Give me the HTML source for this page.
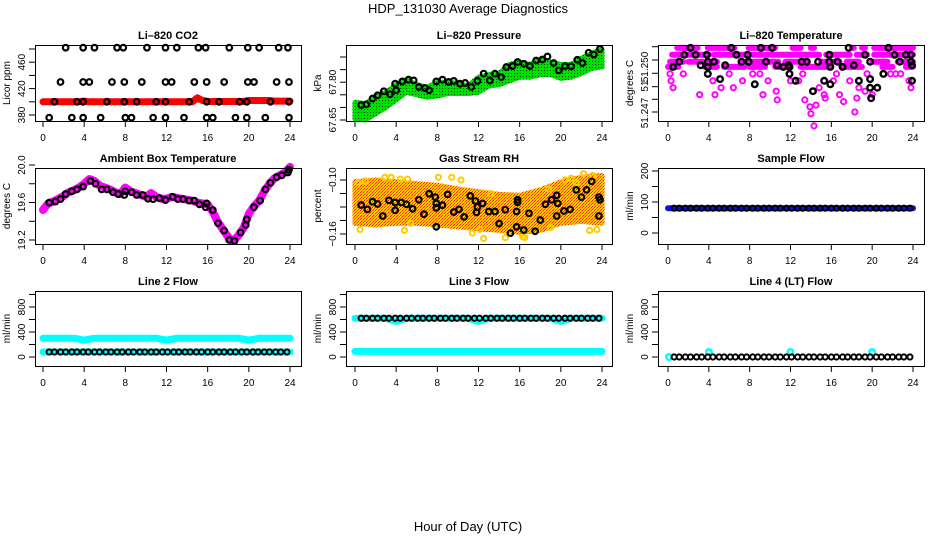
<!DOCTYPE html>
<html><head><meta charset="utf-8"><style>
body{margin:0;background:#fff}
svg{display:block;font-family:"Liberation Sans",Arial,sans-serif}
</style></head><body>
<svg id="c" width="936" height="540" viewBox="0 0 936 540">
<defs>
<pattern id="pg" width="3" height="3" patternUnits="userSpaceOnUse"><rect width="3" height="3" fill="#00dd00"/><rect x="1" y="1" width="1" height="1" fill="#004400"/></pattern>
<pattern id="po" width="3" height="3" patternUnits="userSpaceOnUse"><rect width="3" height="3" fill="#ffcc00"/><rect width="1" height="1" fill="#ff2200"/><rect x="2" y="1" width="1" height="1" fill="#ff6600"/><rect x="1" y="2" width="1" height="1" fill="#ff2200"/></pattern>
</defs>
<text x="468" y="13" text-anchor="middle" font-size="13">HDP_131030  Average Diagnostics</text>
<text x="468" y="531" text-anchor="middle" font-size="13">Hour of Day (UTC)</text>
</svg>
<script>
// ---------- data ----------
const xTicks=[0,4,8,12,16,20,24];
const co2Red=[400,400,400,400,400,400,400,400,401,400,400,400,400,400,400,400,400,400,400,400,400,400,400,400,400,400,400,400,400,400,406,402,400.5,400.5,400.5,400.5,400.5,400.5,400.5,400.5,402,402,402,402,402,401,401,401,401];
const co2Top=[2.2,3.9,5,7.2,7.8,10.1,11.9,13,15.1,15.8,18.1,19.9,21,22.9,23.8];
const co2Mid=[1.7,3.9,4.5,6.7,7.9,9.6,11.9,12.5,14.7,15.9,17.6,19.9,20.5,22.7,23.9];
const co2Base=[1.1,3.3,3.9,6.2,7.9,9.1,11.0,11.9,14.2,15.9,17.1,19.1,19.8,22.1,23.9];
const co2Low=[0.6,2.8,3.9,5.6,8,8.6,10.7,11.9,13.7,15.9,16.5,18.7,19.8,21.6,23.9];
const co2Levels=[482,430,400,376];
const presUpper=[67.72,67.715,67.74,67.76,67.79,67.81,67.79,67.78,67.80,67.80,67.795,67.785,67.82,67.83,67.835,67.87,67.88,67.87,67.89,67.88,67.87,67.87,67.895,67.915,67.93];
const presLower=[67.655,67.65,67.675,67.70,67.73,67.76,67.75,67.74,67.745,67.755,67.755,67.755,67.76,67.785,67.79,67.805,67.82,67.82,67.83,67.83,67.815,67.82,67.835,67.855,67.86];
const presBlackH=[0.6,1.1,1.7,2.2,2.8,3.4,3.9,4.0,4.6,5.2,5.7,6.2,6.8,7.2,7.9,8.5,9.1,9.6,10.2,10.7,11.3,11.9,12.5,13.1,13.6,14.2,14.7,15.3,15.8,16.4,17.0,17.6,18.2,18.7,19.3,19.8,20.4,21.0,21.6,22.1,22.7,23.2,23.8];
const presBlackV=[67.709,67.712,67.735,67.748,67.764,67.752,67.794,67.768,67.803,67.810,67.807,67.781,67.777,67.768,67.803,67.810,67.801,67.805,67.794,67.797,67.781,67.805,67.834,67.807,67.834,67.820,67.860,67.864,67.880,67.873,67.864,67.886,67.890,67.902,67.876,67.847,67.864,67.863,67.889,67.876,67.917,67.910,67.932];
const tempLevels=[51.2507,51.2503,51.2499,51.2496];
const tempRanges=[
 [[0.9,2.9],[3.9,6.5],[7.9,10.5],[12.2,13.0],[14.0,14.3],[18.0,18.2],[19.0,19.3],[20.2,24.0]],
 [[0.4,4.0],[4.5,10.0],[10.2,14.8],[15.5,17.8],[18.5,19.5],[20.2,24.0]],
 [[0.2,1.5],[2.0,3.4],[3.8,4.8],[7.2,10.8],[11.5,13.6],[15.0,16.8],[17.5,18.7],[20.0,21.5],[22.5,24.0]],
 [[0.0,1.0],[3.6,4.8],[5.5,7.5],[8.0,9.5],[10.5,12.0],[13.0,16.0],[17.0,19.0],[21.0,22.0],[23.3,24.0]]];
const tempMagH=[0.2,0.3,0.5,3.1,4.6,5.2,6.4,7.3,8.3,9.3,9.8,10.6,10.7,11.9,12.8,13.4,13.9,14.0,14.3,14.5,14.8,15.3,16.2,16.8,17.2,17.8,18.3,18.5,18.7,19.3,20.0,22.3,23.6,23.8,4.4,12.0,15.4,1.5,6.0,9.0,13.2,16.5,19.5,21.8,22.8];
const tempMagV=[51.2492,51.2488,51.2484,51.2480,51.2480,51.2484,51.2484,51.2488,51.2492,51.2480,51.2488,51.2482,51.2477,51.2492,51.2488,51.2477,51.2473,51.2469,51.2462,51.2474,51.2484,51.2480,51.2488,51.2480,51.2476,51.2488,51.2470,51.2478,51.2484,51.2482,51.2480,51.2492,51.2488,51.2484,51.2488,51.2488,51.2478,51.2492,51.2492,51.2492,51.2492,51.2492,51.2492,51.2492,51.2492];
const tempBlackH=[0.5,1.1,1.6,2.2,2.7,3.2,3.8,3.9,3.9,3.9,4.5,5.1,5.6,6.2,6.7,7.2,7.8,7.9,8.5,9.1,9.6,10.2,10.7,11.3,11.8,11.9,11.9,12.5,13.1,13.6,14.2,14.7,15.3,15.8,15.8,15.9,15.9,16.6,17.1,17.7,18.2,18.7,19.3,19.8,19.8,19.8,19.9,20.5,21.1,21.6,22.2,22.7,23.3,23.8,23.8,23.9,23.9];
const tempBlackV=[51.2496,51.2499,51.2503,51.2507,51.2503,51.2497,51.2503,51.2499,51.2496,51.2492,51.2499,51.2489,51.2497,51.2507,51.2503,51.2499,51.2503,51.2499,51.2486,51.2507,51.2499,51.2507,51.2497,51.2496,51.2497,51.2496,51.2492,51.2488,51.2499,51.2499,51.2482,51.2499,51.2488,51.2503,51.2499,51.2496,51.2486,51.2499,51.2496,51.2507,51.2497,51.2488,51.2503,51.2499,51.2489,51.2484,51.2478,51.2484,51.2492,51.2507,51.2503,51.2499,51.2503,51.2503,51.2499,51.2497,51.2488];
const tempTickLabels=["51.250","51","51.247"];
const tempTickLabelVals=[51.249596,51.2485,51.246942];
const ambMag=[19.52,19.59,19.61,19.64,19.67,19.71,19.73,19.76,19.80,19.85,19.83,19.78,19.76,19.74,19.71,19.69,19.76,19.72,19.70,19.68,19.66,19.70,19.66,19.64,19.64,19.66,19.65,19.64,19.63,19.62,19.60,19.59,19.58,19.50,19.39,19.31,19.23,19.19,19.25,19.33,19.48,19.56,19.62,19.72,19.80,19.86,19.89,19.92,19.98];
const ambBlackH=[0.6,1.2,1.7,2.2,2.8,3.3,3.9,4.6,5.1,5.7,6.2,6.8,7.3,7.9,8.0,8.6,9.1,9.7,10.2,10.7,11.3,11.9,12.6,13.1,13.6,14.2,14.7,15.2,15.8,15.9,16.5,17.0,17.6,18.1,18.6,19.2,19.7,19.8,20.5,21.1,21.6,22.1,22.7,23.2,23.8,23.9];
const ambBlackV=[19.598,19.61,19.636,19.69,19.72,19.74,19.77,19.83,19.80,19.74,19.74,19.71,19.69,19.68,19.72,19.71,19.68,19.68,19.64,19.636,19.647,19.626,19.66,19.636,19.636,19.62,19.62,19.58,19.55,19.59,19.52,19.38,19.30,19.20,19.19,19.28,19.36,19.42,19.55,19.62,19.74,19.81,19.87,19.89,19.92,19.95];
const rhUpper=[-0.102,-0.100,-0.102,-0.104,-0.106,-0.110,-0.113,-0.116,-0.117,-0.111,-0.102,-0.097,-0.095];
const rhLower=[-0.148,-0.150,-0.148,-0.148,-0.150,-0.152,-0.154,-0.156,-0.158,-0.156,-0.148,-0.146,-0.148];
const rhOrH=[0.3,0.5,1.0,2.9,3.5,4.4,4.8,5.1,5.4,8.1,9.4,10.3,11.4,12.1,12.5,14.6,16.3,16.5,19.0,20.4,21.0,21.5,22.2,23.1,22.8,23.5,13.2,18.8];
const rhOrV=[-0.103,-0.155,-0.101,-0.097,-0.097,-0.099,-0.156,-0.099,-0.148,-0.097,-0.097,-0.100,-0.159,-0.155,-0.165,-0.164,-0.163,-0.164,-0.153,-0.100,-0.098,-0.103,-0.093,-0.095,-0.156,-0.155,-0.115,-0.110];
const rhBlackH=[0.6,1.2,1.7,2.2,2.7,3.3,3.9,3.9,4.5,5.0,5.6,6.2,6.7,7.2,7.8,7.9,7.9,7.9,8.5,9.0,9.6,10.1,10.6,11.2,11.7,11.8,11.9,12.4,13.0,13.6,14.0,14.6,15.1,15.7,15.7,15.8,15.8,16.4,16.9,17.5,18.0,18.5,19.1,19.6,19.7,19.6,20.3,20.9,21.5,22.0,22.5,23.0,23.7,23.8,23.7];
const rhBlackV=[-0.1278,-0.1326,-0.1241,-0.1267,-0.140,-0.1226,-0.125,-0.1337,-0.125,-0.127,-0.132,-0.122,-0.138,-0.1152,-0.119,-0.126,-0.131,-0.152,-0.128,-0.116,-0.1356,-0.1326,-0.141,-0.1176,-0.1233,-0.136,-0.130,-0.126,-0.135,-0.135,-0.1484,-0.133,-0.159,-0.135,-0.152,-0.1248,-0.122,-0.1556,-0.137,-0.157,-0.1445,-0.127,-0.122,-0.117,-0.126,-0.140,-0.1344,-0.1326,-0.111,-0.119,-0.111,-0.1015,-0.119,-0.122,-0.140];
const flowHours=[0.6,1.1,1.7,2.2,2.8,3.3,3.9,4.4,5.0,5.5,6.1,6.6,7.2,7.7,8.3,8.8,9.4,9.9,10.5,11.0,11.6,12.1,12.7,13.2,13.8,14.3,14.9,15.4,16.0,16.5,17.1,17.6,18.2,18.7,19.3,19.8,20.4,20.9,21.5,22.0,22.6,23.1,23.7];
const sampleBlack=[80,80,80,80,80,80,80,80,80,80,80,80,80,80,80,80,80,80,80,80,80,80,80,80,80,80,80,80,80,80,80,80,80,80,80,80,80,80,80,80,80,80,80];
const line2Black=[80,80,80,80,80,80,80,80,80,80,80,80,80,80,80,80,80,80,80,80,80,80,80,80,80,80,80,80,80,80,80,80,80,80,80,80,80,80,80,80,80,80,80];
const line3Black=[620,620,620,620,620,620,620,620,620,620,620,620,620,620,620,620,620,620,620,620,620,620,620,620,620,620,620,620,620,620,620,620,620,620,620,620,620,620,620,620,620,620,620];
const line4Black=[0,0,0,0,0,0,0,0,0,0,0,0,0,0,0,0,0,0,0,0,0,0,0,0,0,0,0,0,0,0,0,0,0,0,0,0,0,0,0,0,0,0,0];
const hourGrid=[0,1,2,3,4,5,6,7,8,9,10,11,12,13,14,15,16,17,18,19,20,21,22,23,24];
const sampleBlue=[80,80,80,80,80,80,80,80,80,80,80,80,80,80,80,80,80,80,80,80,80,80,80,80,80];
const line2CyanHi=[300,300,300,300,270,300,300,300,300,300,300,300,270,300,300,300,300,300,300,300,270,300,300,300,300];
const line2CyanLo=[80,80,80,80,80,80,80,80,80,80,80,80,80,80,80,80,80,80,80,80,80,80,80,80,80];
const line3CyanHi=[620,620,620,620,570,620,620,620,620,620,620,620,570,620,620,620,620,620,620,620,570,620,620,620,620];
const line3CyanLo=[90,90,90,90,90,90,90,90,90,90,90,90,90,90,90,90,90,90,90,90,90,90,90,90,90];
const line4CyanH=[0.1,4,12,20];
const line4CyanV=[0,80,80,80];

// ---------- drawing ----------
const svg=document.getElementById('c');const NS='http://www.w3.org/2000/svg';
function mk(t,a,p){const e=document.createElementNS(NS,t);for(const k in a)e.setAttribute(k,a[k]);(p||svg).appendChild(e);return e;}
const cols=[{l:35,r:301,x0:43,x24:290},{l:346,r:612,x0:355,x24:602},{l:658,r:924,x0:668,x24:913}];
const rows=[{t:45,b:121},{t:168,b:244},{t:291,b:366}];
function panel(name,title,ylab,ci,ri,v1,p1,v2,p2,yt,ylabs){
  const c=cols[ci],r=rows[ri];
  const g=mk('g',{});
  
  
  const X=h=>c.x0+(c.x24-c.x0)*h/24;
  const Y=v=>p1+(v-v1)*(p2-p1)/(v2-v1);
  const t=mk('text',{x:(c.l+c.r)/2,y:r.t-6,'text-anchor':'middle','font-size':11,'font-weight':'bold'},g);t.textContent=title;
  
  
  const yl=mk('text',{transform:`translate(${c.l-25},${(r.t+r.b)/2}) rotate(-90)`,'text-anchor':'middle','font-size':10},g);yl.textContent=ylab;
  
  
  const plot=mk('g',{},g);
  
  
  const ax=mk('g',{stroke:'#000','stroke-width':1},g);
  
  
  mk('rect',{x:c.l+.5,y:r.t+.5,width:c.r-c.l,height:r.b-r.t,fill:'none'},ax);
  xTicks.forEach(h=>{mk('line',{x1:X(h),x2:X(h),y1:r.b,y2:r.b+6},ax);
    const tl=mk('text',{x:X(h),y:r.b+20,'text-anchor':'middle','font-size':10,stroke:'none'},g);tl.textContent=h;
    
    });
  yt.forEach(v=>mk('line',{x1:c.l-6,x2:c.l,y1:Y(v),y2:Y(v)},ax));
  ylabs.forEach(([v,s])=>{const tl=mk('text',{transform:`translate(${c.l-10},${Y(v)}) rotate(-90)`,'text-anchor':'middle','font-size':10},g);tl.textContent=s;
    
    });
  return {X,Y,g:plot};
}
function dot(P,h,v,col,sw,r,nm){const e=mk('circle',{cx:P.X(h),cy:P.Y(v),r:r||2.8,fill:'none',stroke:col,'stroke-width':sw||2},P.g);
  
  return e;}
function pline(P,hs,vs,col,w,nm){const e=mk('polyline',{points:hs.map((h,i)=>P.X(h)+','+P.Y(vs[i])).join(' '),fill:'none',stroke:col,'stroke-width':w,'stroke-linecap':'round','stroke-linejoin':'round'},P.g);
  
  return e;}
function band(P,hs,up,lo,fill,nm){const pts=hs.map((h,i)=>P.X(h)+','+P.Y(up[i])).concat(hs.slice().reverse().map((h,i)=>P.X(h)+','+P.Y(lo[lo.length-1-i])));
  const e=mk('polygon',{points:pts.join(' '),fill:fill,stroke:fill,'stroke-width':5,'stroke-linejoin':'round'},P.g);
  
  }
const halfGrid=co2Red.map((_,i)=>i/2);
const rng=(a,b,s)=>{const o=[];for(let v=a;v<=b+1e-9;v+=s)o.push(+v.toFixed(6));return o;};

// CO2
let P=panel('co2-panel','Li\u2013820 CO2','Licor ppm',0,0,380,115,480,49,rng(380,480,20),[[380,'380'],[420,'420'],[460,'460']]);
pline(P,halfGrid,co2Red,'#ff0000',7,'co2-red-series');
[co2Top,co2Mid,co2Base,co2Low].forEach((arr,k)=>arr.forEach(h=>dot(P,h,co2Levels[k],'#000',2.2,2.8,'co2-point')));
// Pressure
P=panel('pressure-panel','Li\u2013820 Pressure','kPa',1,0,67.65,120,67.90,57,rng(67.65,67.90,0.05),[[67.65,'67.65'],[67.80,'67.80']]);
band(P,hourGrid,presUpper,presLower,'url(#pg)','pressure-green-band');
presBlackH.forEach((h,i)=>dot(P,h,presBlackV[i],'#000',2.2,2.8,'pressure-point'));
// Temperature
P=panel('temperature-panel','Li\u2013820 Temperature','degrees C',2,0,51.250,60,51.247,112,[51.250767,51.25,51.249233,51.24846,51.247733,51.247],tempTickLabelVals.map((v,i)=>[v,tempTickLabels[i]]));
tempRanges.forEach((rs,k)=>rs.forEach(([a,b])=>pline(P,[a,b],[tempLevels[k],tempLevels[k]],'#ff00ff',6,'temperature-magenta-band')));
tempMagH.forEach((h,i)=>dot(P,h,tempMagV[i],'#ff00ff',2,2.6,'temperature-magenta-point'));
tempBlackH.forEach((h,i)=>dot(P,h,tempBlackV[i],'#000',2.4,2.8,'temperature-point'));
// Ambient
P=panel('ambient-temp-panel','Ambient Box Temperature','degrees C',0,1,19.2,240,20.0,165,rng(19.2,20.0,0.2),[[19.2,'19.2'],[19.6,'19.6'],[20.0,'20.0']]);
pline(P,halfGrid,ambMag,'#ff00ff',8,'ambient-magenta-series');
ambBlackH.forEach((h,i)=>dot(P,h,ambBlackV[i],'#000',2.2,2.8,'ambient-point'));
// RH
P=panel('rh-panel','Gas Stream RH','percent',1,1,-0.10,180,-0.16,234,rng(-0.16,-0.10,0.015),[[-0.10,'\u22120.10'],[-0.16,'\u22120.16']]);
const rhGrid=rhUpper.map((_,i)=>i*2);
band(P,rhGrid,rhUpper,rhLower,'url(#po)','rh-orange-cloud');
rhOrH.forEach((h,i)=>dot(P,h,rhOrV[i],'#ffcc00',2,2.6,'rh-orange-point'));
rhBlackH.forEach((h,i)=>dot(P,h,rhBlackV[i],'#000',2.2,2.8,'rh-point'));
// Sample flow
P=panel('sample-flow-panel','Sample Flow','ml/min',2,1,0,233,200,171,rng(0,200,50),[[0,'0'],[100,'100'],[200,'200']]);
pline(P,hourGrid,sampleBlue,'#1010ee',6,'sample-blue-series');
flowHours.forEach((h,i)=>dot(P,h,sampleBlack[i],'#000',2,2.6,'sample-point'));
// Line 2
P=panel('line2-flow-panel','Line 2 Flow','ml/min',0,2,0,357,800,307,rng(0,1000,200),[[0,'0'],[400,'400'],[800,'800']]);
pline(P,hourGrid,line2CyanHi,'#00ffff',7,'line2-cyan-high');
pline(P,hourGrid,line2CyanLo,'#00ffff',7,'line2-cyan-low');
flowHours.forEach((h,i)=>dot(P,h,line2Black[i],'#000',2,2.6,'line2-point'));
// Line 3
P=panel('line3-flow-panel','Line 3 Flow','ml/min',1,2,0,357,800,307,rng(0,1000,200),[[0,'0'],[400,'400'],[800,'800']]);
pline(P,hourGrid,line3CyanHi,'#00ffff',7,'line3-cyan-high');
pline(P,hourGrid,line3CyanLo,'#00ffff',7,'line3-cyan-low');
flowHours.forEach((h,i)=>dot(P,h,line3Black[i],'#000',2,2.6,'line3-point'));
// Line 4
P=panel('line4-flow-panel','Line 4 (LT) Flow','ml/min',2,2,0,357,800,307,rng(0,1000,200),[[0,'0'],[400,'400'],[800,'800']]);
line4CyanH.forEach((h,i)=>dot(P,h,line4CyanV[i],'#00ffff',2.5,2.8,'line4-cyan-point'));
flowHours.forEach((h,i)=>dot(P,h,line4Black[i],'#000',2,2.6,'line4-point'));
</script>
</body></html>
